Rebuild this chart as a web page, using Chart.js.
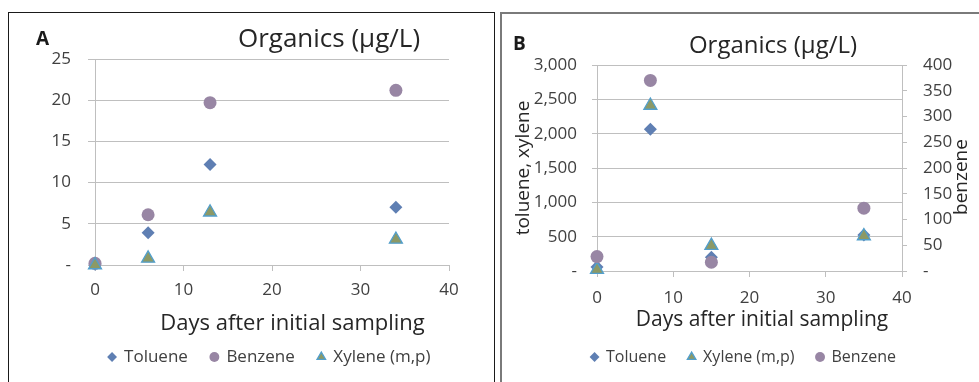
<!DOCTYPE html>
<html>
<head>
<meta charset="utf-8">
<script src="https://cdn.jsdelivr.net/npm/chart.js@4"></script>
<style>
    body { margin: 0; background: #fff; width: 979px; height: 382px; overflow: hidden; position: relative; font-family: 'Open Sans', sans-serif; }
    .frame { position: absolute; box-sizing: border-box; }
    #frameA { left: 8px; top: 12px; width: 487px; height: 400px; border: 1.3px solid #1a1a1a; }
    #frameB { left: 500px; top: 12px; width: 500px; height: 400px; border: 2px solid #7a7a7a; }
    .box { position: absolute; top: 12px; height: 370px; }
    #boxA { left: 8px; width: 486px; }
    #boxB { left: 501px; width: 478px; }
</style>
</head>
<body>
<div class="frame" id="frameA"></div>
<div class="frame" id="frameB"></div>
<div class="box" id="boxA"><canvas id="chartA"></canvas></div>
<div class="box" id="boxB"><canvas id="chartB"></canvas></div>
<script>
// Panel A - days after initial sampling and concentrations (ug/L)
const daysA = [0, 6, 13, 34];
const tolueneA = [0.1, 3.9, 12.2, 7.0];
const benzeneA = [0.2, 6.1, 19.7, 21.2];
const xyleneA = [0, 0.8, 6.4, 3.1];

// Panel B - toluene and xylene on the left axis, benzene on the right
const daysB = [0, 7, 15, 35];
const tolueneB = [60, 2065, 200, 525];
const xyleneB = [20, 2410, 370, 510];
const benzeneB = [28, 370, 17, 122];

const xTicks = [0, 10, 20, 30, 40];
const leftTicksA = [0, 5, 10, 15, 20, 25];
const leftTicksB = [0, 500, 1000, 1500, 2000, 2500, 3000];
const rightTicksB = [0, 50, 100, 150, 200, 250, 300, 350, 400];

const BLUE = '#5f7fb3';
const PURPLE = '#9886a4';
const OLIVE = '#8c9966';
const CYAN = '#529fcc';
const GRID = '#bfbfbf';
const TEXT = '#404040';
const FONT = "'Open Sans', sans-serif";

function pairs(xs, ys) {
    return xs.map((x, i) => ({ x: x, y: ys[i] }));
}

function dashZero(v) {
    return v === 0 ? '-' : v.toLocaleString('en-US');
}

function fixedTicks(values) {
    return function(scale) {
        scale.ticks = values.map(v => ({ value: v }));
    };
}

function toluene(xs, ys) {
    return { label: 'Toluene', data: pairs(xs, ys), pointStyle: 'rectRot', pointRadius: 6.5,
        backgroundColor: BLUE, borderColor: BLUE, borderWidth: 0, order: 3, clip: false };
}
function benzene(xs, ys, axis) {
    const ds = { label: 'Benzene', data: pairs(xs, ys), pointStyle: 'circle', pointRadius: 6.5,
        backgroundColor: PURPLE, borderColor: PURPLE, borderWidth: 0, order: 1, clip: false };
    if (axis) ds.yAxisID = axis;
    return ds;
}
function xylene(xs, ys, order) {
    return { label: 'Xylene (m,p)', data: pairs(xs, ys), pointStyle: 'triangle', pointRadius: 7.5,
        backgroundColor: OLIVE, borderColor: CYAN, borderWidth: 1.3, order: order, clip: false };
}

// texts that are placed by hand, in canvas coordinates
function panelText(items) {
    return {
        id: 'panelText',
        afterDraw(chart) {
            const ctx = chart.ctx;
            items.forEach(t => {
                ctx.save();
                ctx.font = t.font;
                ctx.fillStyle = t.color || '#262626';
                ctx.textAlign = t.align || 'center';
                ctx.textBaseline = t.baseline || 'alphabetic';
                ctx.translate(t.x, t.y);
                if (t.rot) ctx.rotate(t.rot);
                ctx.fillText(t.text, 0, 0);
                ctx.restore();
            });
        }
    };
}

// the legend sits a little right of where chart.js centres it
function legendShift(dx) {
    return {
        id: 'legendShift',
        afterLayout(chart) {
            if (chart.legend) {
                chart.legend.left += dx;
                chart.legend.right += dx;
            }
        }
    };
}

function legendOpts(fontSize, pad) {
    return {
        position: 'bottom',
        labels: {
            usePointStyle: true,
            boxWidth: 7,
            boxHeight: 7,
            padding: pad,
            color: TEXT,
            font: { family: FONT, size: fontSize },
            sort: (a, b) => a.datasetIndex - b.datasetIndex
        }
    };
}

function xAxis(height, pad) {
    return {
        type: 'linear', min: 0, max: 40,
        afterBuildTicks: fixedTicks(xTicks),
        afterFit: s => { s.height = height; },
        ticks: { padding: pad, color: TEXT, font: { family: FONT, size: 17 } },
        grid: { drawOnChartArea: false, color: GRID, tickLength: 6 },
        border: { color: GRID }
    };
}

const chartA = new Chart(document.getElementById('chartA'), {
    type: 'scatter',
    data: {
        datasets: [
            toluene(daysA, tolueneA),
            benzene(daysA, benzeneA),
            xylene(daysA, xyleneA, 0)
        ]
    },
    options: {
        responsive: true,
        maintainAspectRatio: false,
        animation: false,
        layout: { padding: { top: 47, right: 45, bottom: 6.5, left: 38 } },
        plugins: { legend: legendOpts(17, 23), tooltip: { enabled: false } },
        scales: {
            x: xAxis(60.5, 9),
            y: {
                min: 0, max: 25,
                afterBuildTicks: fixedTicks(leftTicksA),
                afterFit: s => { s.width = 49; },
                ticks: { padding: 17, color: TEXT, font: { family: FONT, size: 17 }, callback: dashZero },
                grid: { color: GRID, tickLength: 7 },
                border: { color: GRID }
            }
        }
    },
    plugins: [legendShift(22), panelText([
        { text: 'A', x: 28, y: 33, align: 'left', font: "bold 19px " + FONT, color: '#1a1a1a' },
        { text: 'Organics (µg/L)', x: 321, y: 35, font: "26px " + FONT },
        { text: 'Days after initial sampling', x: 284.5, y: 318, font: "22px " + FONT }
    ])]
});

const chartB = new Chart(document.getElementById('chartB'), {
    type: 'scatter',
    data: {
        datasets: [
            toluene(daysB, tolueneB),
            xylene(daysB, xyleneB, 2),
            benzene(daysB, benzeneB, 'y2')
        ]
    },
    options: {
        responsive: true,
        maintainAspectRatio: false,
        animation: false,
        layout: { padding: { top: 53, right: 25, bottom: 7, left: 32 } },
        plugins: { legend: legendOpts(16, 22), tooltip: { enabled: false } },
        scales: {
            x: xAxis(56, 11),
            y: {
                position: 'left',
                min: 0, max: 3000,
                afterBuildTicks: fixedTicks(leftTicksB),
                afterFit: s => { s.width = 64; },
                ticks: { padding: 15, color: TEXT, font: { family: FONT, size: 17 }, callback: dashZero },
                grid: { color: GRID, tickLength: 5 },
                border: { color: GRID },
                title: { display: true, text: 'toluene, xylene', color: '#262626',
                    font: { family: FONT, size: 19 }, padding: { top: -21, bottom: 0 } }
            },
            y2: {
                position: 'right',
                min: 0, max: 400,
                afterBuildTicks: fixedTicks(rightTicksB),
                afterFit: s => { s.width = 52; },
                ticks: { padding: 16, color: TEXT, font: { family: FONT, size: 17 }, callback: dashZero },
                grid: { drawOnChartArea: false, color: GRID, tickLength: 5 },
                border: { color: GRID }
            }
        }
    },
    plugins: [panelText([
        { text: 'B', x: 12, y: 38, align: 'left', font: "bold 19px " + FONT, color: '#1a1a1a' },
        { text: 'Organics (µg/L)', x: 272, y: 41, font: "24px " + FONT },
        { text: 'Days after initial sampling', x: 261, y: 314, font: "21px " + FONT },
        { text: 'benzene', x: 461, y: 165, rot: -Math.PI / 2, baseline: 'middle', font: "19px " + FONT }
    ])]
});
</script>
</body>
</html>
